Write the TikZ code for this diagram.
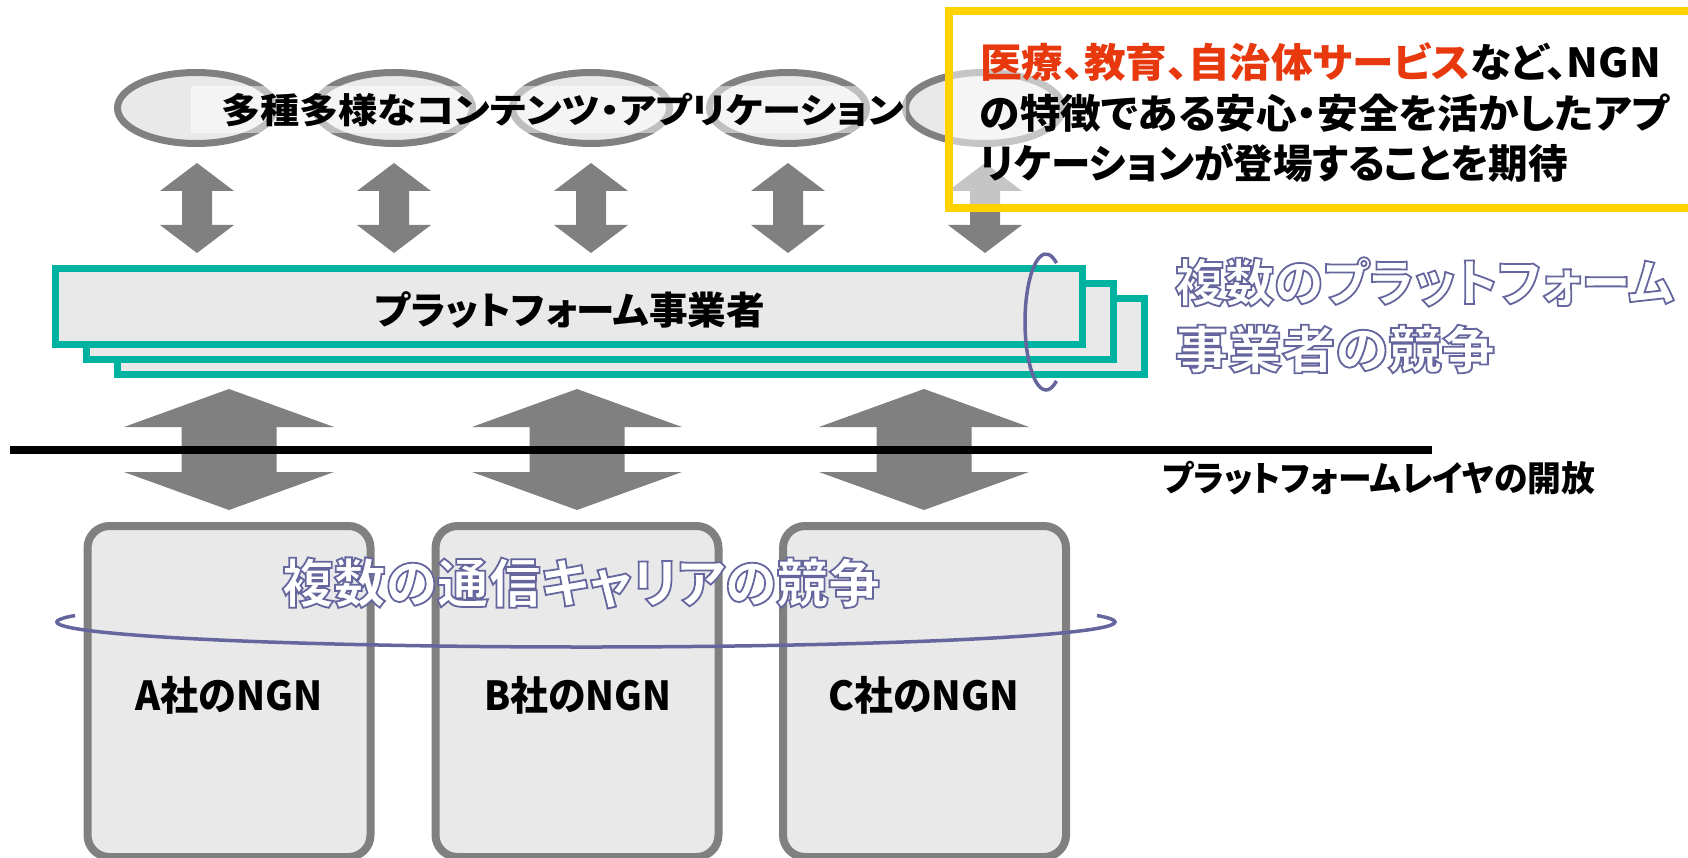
\documentclass[tikz,border=0pt]{standalone}
\usepackage{fontspec}
\setmainfont{Noto Sans CJK JP}[RawFeature=+palt]
\usepackage{graphicx}
\usetikzlibrary{shapes.geometric}
\definecolor{agray}{RGB}{128,128,128}
\definecolor{efill}{RGB}{233,233,233}
\definecolor{tealb}{RGB}{0,178,160}
\definecolor{purp}{RGB}{102,102,158}
\definecolor{ygold}{RGB}{255,210,0}
\definecolor{tred}{RGB}{232,56,13}
\newcommand\fitw[2]{\resizebox{#1}{\height}{#2}}
\newcommand\fs[1]{\fontsize{#1pt}{#1pt}\selectfont\bfseries}
\newcommand\outl[1]{\special{pdf:literal direct 2 Tr 1.8 w 0.4 0.4 0.62 RG 1 g}#1\special{pdf:literal direct 0 Tr 0 g 0 G}}
\tikzset{
  topell/.style={ellipse, draw=agray, fill=efill, line width=7pt, minimum width=157pt, minimum height=71pt},
  plat/.style={draw=tealb, fill=efill, line width=7pt, minimum width=1027pt, minimum height=76pt},
  ngn/.style={draw=agray, fill=efill, line width=8pt, rounded corners=22pt, minimum width=283pt, minimum height=331pt},
  ring/.style={draw=purp, line width=3.5pt},
  ylab/.style={anchor=west, font=\fs{40}},
  pics/vdarrow/.style n args={4}{code={
    \fill[agray] (0,-#1) -- (#2,-#1+#4) -- (#3,-#1+#4) -- (#3,#1-#4) -- (#2,#1-#4) -- (0,#1)
      -- (-#2,#1-#4) -- (-#3,#1-#4) -- (-#3,-#1+#4) -- (-#2,-#1+#4) -- cycle;}}
}
\begin{document}
\begin{tikzpicture}[x=1pt,y=-1pt, every node/.style={inner sep=0pt, outer sep=0pt}]
\useasboundingbox (0,0) rectangle (1688,858);
\fill[white] (0,0) rectangle (1688,858);
% top ellipses
\node[topell] (e1) at (196,108) {};
\node[topell] (e2) at (394,108) {};
\node[topell] (e3) at (591,108) {};
\node[topell] (e4) at (788,108) {};
\node[topell] (e5) at (984,108) {};
\fill[white, opacity=0.5] (191,86) rectangle (906,133);
\node[font=\fs{35}] (apps) at (562.5,110) {\fitw{683pt}{多種多様なコンテンツ・アプリケーション}};
% small double arrows
\pic at (197,208) {vdarrow={45}{37}{15}{28}};
\pic at (394,208) {vdarrow={45}{37}{15}{28}};
\pic at (591,208) {vdarrow={45}{37}{15}{28}};
\pic at (788,208) {vdarrow={45}{37}{15}{28}};
\pic at (985,208) {vdarrow={45}{37}{15}{28}};
% yellow note
\node[draw=ygold, line width=8pt, fill=white, fill opacity=0.55, minimum width=761pt, minimum height=197pt] (ybox) at (1329.5,109.5) {};
\node[ylab] (y1) at (980,62) {\fitw{681pt}{\textcolor{tred}{医療、教育、自治体サービス}など、NGN}};
\node[ylab] (y2) at (980,113) {\fitw{689pt}{の特徴である安心・安全を活かしたアプ}};
\node[ylab] (y3) at (980,163) {\fitw{588pt}{リケーションが登場することを期待}};
% platform stack
\node[plat] (p3) at (631,336.5) {};
\node[plat] (p2) at (600,321.5) {};
\node[plat] (p1) at (569,306.5) {};
\node[font=\fs{38}] (ptext) at (570,310) {\fitw{390pt}{プラットフォーム事業者}};
\coordinate (arcc) at (1046,322);
\draw[ring] ([shift={(60:21pt and 68pt)}]arcc) arc[start angle=60, end angle=300, x radius=21pt, y radius=68pt];
\node[anchor=west, font=\fs{51}] (comp1) at (1175,282) {\fitw{499pt}{\outl{複数のプラットフォーム}}};
\node[anchor=west, font=\fs{51}] (comp2) at (1175,349) {\fitw{320pt}{\outl{事業者の競争}}};
% big double arrows and open line
\pic at (229,449.5) {vdarrow={60.5}{105}{47.5}{38}};
\pic at (577,449.5) {vdarrow={60.5}{105}{47.5}{38}};
\pic at (924,449.5) {vdarrow={60.5}{105}{47.5}{38}};
\coordinate (l0) at (10,449.5);
\coordinate (l1) at (1432,449.5);
\draw[line width=8pt] (l0) -- (l1);
\node[anchor=west, font=\fs{35}] (open) at (1162,478) {\fitw{433pt}{プラットフォームレイヤの開放}};
% carriers
\node[ngn] (na) at (229,691.5) {};
\node[ngn] (nb) at (577,691.5) {};
\node[ngn] (nc) at (924.5,691.5) {};
\node[font=\fs{40}] (la) at (229,695) {\fitw{187pt}{A社のNGN}};
\node[font=\fs{40}] (lb) at (578,695) {\fitw{187pt}{B社のNGN}};
\node[font=\fs{40}] (lc) at (924,695) {\fitw{191pt}{C社のNGN}};
\coordinate (ringc) at (586,622);
\draw[ring] ([shift={(165:529pt and 25pt)}]ringc) arc[start angle=165, end angle=375, x radius=529pt, y radius=25pt];
\node[font=\fs{53}] (comp3) at (581,583) {\fitw{598pt}{\outl{複数の通信キャリアの競争}}};
\end{tikzpicture}
\end{document}
